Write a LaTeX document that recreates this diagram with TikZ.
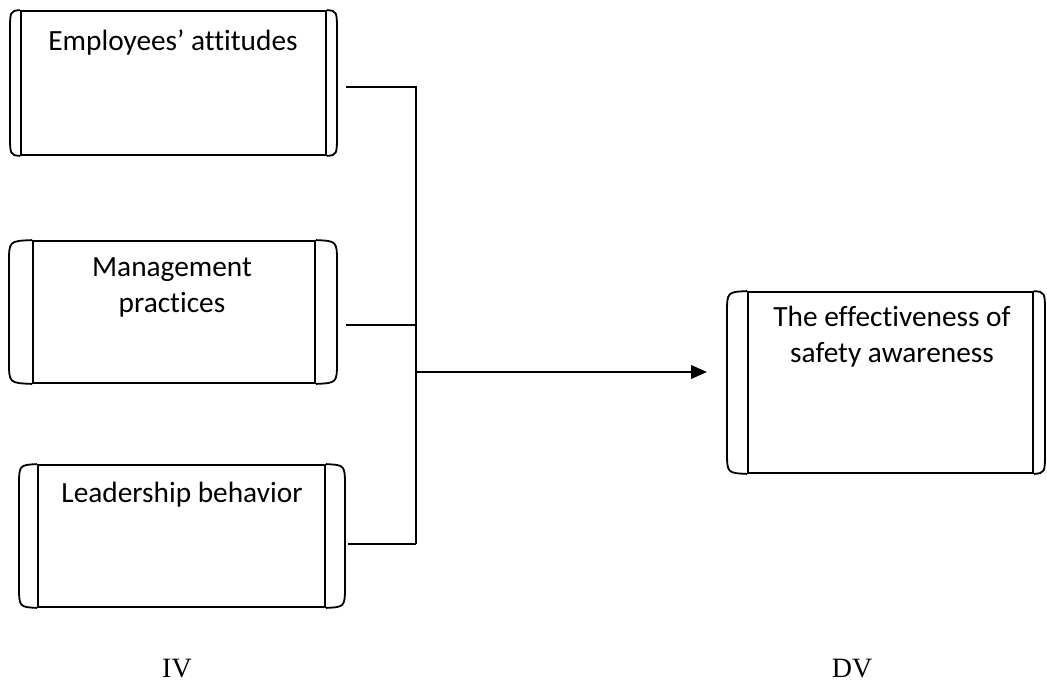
\documentclass[tikz,border=0pt]{standalone}
\usepackage{fontspec}
\setmainfont{Liberation Serif}
\newfontfamily\boxfont[Ligatures=NoCommon]{Carlito}
\usetikzlibrary{arrows.meta}
\newcommand\procbox[7]{% name, outer left, inner left, inner right, outer right, top, bottom
  \node[draw,rectangle,inner sep=0pt,minimum width={(#4-#3)*0.75pt},minimum height={(#7-#6)*0.75pt}]
    (#1) at ({(#3+#4)/2},{(#6+#7)/2}) {};
  \node[rectangle,inner sep=0pt,minimum width={(#5-#2)*0.75pt},minimum height={(#7-#6)*0.75pt}]
    (#1o) at ({(#2+#5)/2},{(#6+#7)/2}) {};
  \draw (#1.north west) .. controls (#2,#6) .. (#2,#6+22) -- (#2,#7-22) .. controls (#2,#7) .. (#1.south west);
  \draw (#1.north east) .. controls (#5,#6) .. (#5,#6+22) -- (#5,#7-22) .. controls (#5,#7) .. (#1.south east);
}
\begin{document}
\begin{tikzpicture}[x=0.75pt,y=-0.75pt,line width=1.35pt,
  boxtext/.style={font=\boxfont\fontsize{22}{26.3}\selectfont,align=center,anchor=base,inner sep=0pt},
  vartext/.style={font=\fontsize{21}{25}\selectfont,anchor=base,inner sep=0pt},
  conn/.style={line width=1.4pt},
  arrowconn/.style={line width=1.8pt,-{Triangle[length=12pt,width=10pt]}}]
\useasboundingbox (0,0) rectangle (1047,683);

% Employees' attitudes
\procbox{b1}{10}{21}{326}{337}{11}{155}
\node[boxtext] (t1) at (173,50) {Employees’ attitudes};

% Management practices
\procbox{b2}{9}{33}{315}{337}{241}{383}
\node[boxtext] (t2) at (172,312) {Management\\practices};

% Leadership behavior
\procbox{b3}{19}{38}{325}{345}{465}{607}
\node[boxtext] (t3) at (182,502) {Leadership behavior};

% DV box
\procbox{dv}{727}{748}{1033}{1045}{292}{473}
\node[boxtext] (t4) at (892,362) {The effectiveness of\\safety awareness};

% connectors
\coordinate (jt) at (416,87);
\coordinate (jm) at (416,372);
\coordinate (jb) at (416,544);
\coordinate (j2) at (416,325);
\draw[conn] (b1o.east |- jt) ++(8,0) -- (jt) -- (jb);
\draw[conn] (b2o.east |- j2) ++(8,0) -- (j2);
\draw[conn] (b3o.east |- jb) ++(2,0) -- (jb);
\draw[arrowconn,shorten >=14.25pt] (jm) -- (dvo.west |- jm);

% labels
\node[vartext] (iv) at (177,677) {IV};
\node[vartext] (dvl) at (852,677) {DV};
\end{tikzpicture}
\end{document}
